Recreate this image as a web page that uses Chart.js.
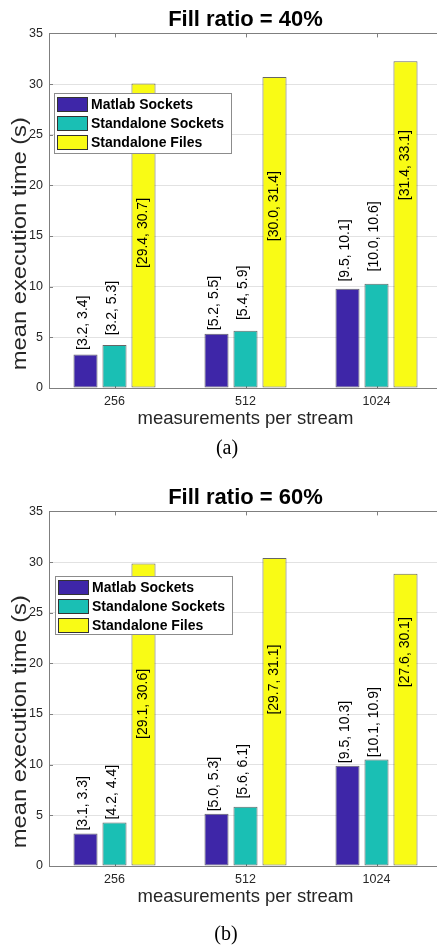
<!DOCTYPE html>
<html>
<head>
<meta charset="utf-8">
<title>Mean execution time per stream size</title>
<script src="https://cdn.jsdelivr.net/npm/chart.js@4.4.1/dist/chart.umd.min.js"></script>
<style>
  html, body { margin: 0; padding: 0; width: 437px; height: 945px; overflow: hidden; background: #fff; }
  .panel { position: absolute; left: 0; width: 442px; height: 467px; }
  .panel canvas { display: block; }
  .cap { position: absolute; width: 60px; text-align: center; font-family: 'Liberation Serif', 'Times New Roman', serif;
         font-size: 20px; line-height: 20px; color: #000; }
</style>
</head>
<body>
<div class="panel" style="top:0px"><canvas id="fill40" width="442" height="467"></canvas></div>
<div class="cap" style="left:197px; top:437px">(a)</div>
<div class="panel" style="top:478px"><canvas id="fill60" width="442" height="467"></canvas></div>
<div class="cap" style="left:196px; top:923px">(b)</div>

<script>
// ---- data ----
const categories = ['256', '512', '1024'];
const seriesNames = ['Matlab Sockets', 'Standalone Sockets', 'Standalone Files'];
const yTicks = [0, 5, 10, 15, 20, 25, 30, 35];

// Fill ratio = 40 %: mean execution time (s)
const matlab40  = [3.3, 5.35, 9.8];
const sockets40 = [4.25, 5.65, 10.3];
const files40   = [30.05, 30.7, 32.25];
// Fill ratio = 40 %: confidence intervals [low, high]
const matlabCI40  = [[3.2, 3.4], [5.2, 5.5], [9.5, 10.1]];
const socketsCI40 = [[3.2, 5.3], [5.4, 5.9], [10.0, 10.6]];
const filesCI40   = [[29.4, 30.7], [30.0, 31.4], [31.4, 33.1]];

// Fill ratio = 60 %: mean execution time (s)
const matlab60  = [3.2, 5.15, 9.9];
const sockets60 = [4.3, 5.85, 10.5];
const files60   = [29.85, 30.4, 28.85];
// Fill ratio = 60 %: confidence intervals [low, high]
const matlabCI60  = [[3.1, 3.3], [5.0, 5.3], [9.5, 10.3]];
const socketsCI60 = [[4.2, 4.4], [5.6, 6.1], [10.1, 10.9]];
const filesCI60   = [[29.1, 30.6], [29.7, 31.1], [27.6, 30.1]];

// where each interval label sits, in axis units:
// for the socket series the height at which the text starts, for the file series its middle
const labelStart40 = [[3.75, 5.7, 10.5], [5.2, 6.7, 11.5]];
const labelMid40   = [15.3, 17.95, 22.0];
const labelStart60 = [[3.5, 5.4, 10.15], [4.6, 6.66, 10.74]];
const labelMid60   = [16.0, 18.4, 21.1];

// ---- styling ----
const COLORS = ['#3E26A8', '#1ABFB4', '#F9FB15'];
const AXIS = '#7f7f7f';
const TEXT = '#262626';
const SANS = "'Liberation Sans', Arial, Helvetica, sans-serif";

const fmt = ci => '[' + ci[0].toFixed(1) + ', ' + ci[1].toFixed(1) + ']';

// frame, inward ticks, interval labels, legend box and the rotated y title
const decorations = {
  id: 'decorations',
  beforeDatasetsDraw(chart) {
    const { ctx, chartArea: a, scales: { x, y } } = chart;
    ctx.save();
    ctx.strokeStyle = AXIS;
    ctx.lineWidth = 1;
    ctx.beginPath();
    ctx.moveTo(a.left, Math.round(a.top) + 0.5);
    ctx.lineTo(a.right, Math.round(a.top) + 0.5);
    ctx.moveTo(a.right - 0.5, a.top);
    ctx.lineTo(a.right - 0.5, a.bottom);
    yTicks.forEach(v => {
      const py = Math.round(y.getPixelForValue(v)) + 0.5;
      ctx.moveTo(a.left, py); ctx.lineTo(a.left + 4, py);
      ctx.moveTo(a.right, py); ctx.lineTo(a.right - 4, py);
    });
    categories.forEach((c, i) => {
      const px = Math.round(x.getPixelForValue(i)) + 0.5;
      ctx.moveTo(px, a.top); ctx.lineTo(px, a.top + 4);
      ctx.moveTo(px, a.bottom); ctx.lineTo(px, a.bottom - 4);
    });
    ctx.stroke();
    ctx.restore();
  },
  afterDatasetsDraw(chart, args, opts) {
    const { ctx, chartArea: a, scales: { y } } = chart;
    ctx.save();
    ctx.fillStyle = '#000';
    ctx.font = '14px ' + SANS;
    ctx.textBaseline = 'middle';
    chart.data.datasets.forEach((ds, di) => {
      const meta = chart.getDatasetMeta(di);
      meta.data.forEach((bar, j) => {
        const text = fmt(opts.intervals[di][j]);
        ctx.save();
        if (di < 2) {
          ctx.translate(bar.x - 2.5, y.getPixelForValue(opts.labelStart[di][j]));
          ctx.rotate(-Math.PI / 2);
          ctx.textAlign = 'left';
        } else {
          ctx.translate(bar.x, y.getPixelForValue(opts.labelMid[j]));
          ctx.rotate(-Math.PI / 2);
          ctx.textAlign = 'center';
        }
        ctx.fillText(text, 0, 0);
        ctx.restore();
      });
    });

    // legend
    const lg = opts.legend;
    const lx = a.left + lg.dx, ly = a.top + lg.dy;
    ctx.fillStyle = '#fff';
    ctx.fillRect(lx, ly, lg.w, lg.h);
    ctx.strokeStyle = '#8c8c8c';
    ctx.lineWidth = 1;
    ctx.strokeRect(Math.round(lx) + 0.5, Math.round(ly) + 0.5, lg.w, lg.h);
    ctx.font = 'bold 14px ' + SANS;
    ctx.textAlign = 'left';
    ctx.textBaseline = 'middle';
    chart.data.datasets.forEach((ds, i) => {
      const sy = Math.round(ly + 4 + i * 19);
      ctx.fillStyle = ds.backgroundColor;
      ctx.fillRect(lx + 3, sy, 31, 15);
      ctx.strokeStyle = '#333';
      ctx.strokeRect(Math.round(lx + 3) + 0.5, sy + 0.5, 30, 14);
      ctx.fillStyle = '#000';
      ctx.fillText(ds.label, lx + 37, sy + 8);
    });
    ctx.restore();
  },
  afterDraw(chart, args, opts) {
    const { ctx, chartArea: a } = chart;
    const t = opts.yTitle;
    ctx.save();
    ctx.font = '20px ' + SANS;
    ctx.fillStyle = TEXT;
    ctx.textAlign = 'center';
    ctx.textBaseline = 'middle';
    const w = ctx.measureText(t.text).width;
    ctx.translate(t.x, (a.top + a.bottom) / 2 + t.shift);
    ctx.rotate(-Math.PI / 2);
    ctx.scale(t.length / w, 1);
    ctx.fillText(t.text, 0, 0);
    ctx.restore();
  }
};

function makeChart(id, titleText, values, intervals, labelStart, labelMid, legendBox) {
  return new Chart(document.getElementById(id), {
    type: 'bar',
    data: {
      labels: categories,
      datasets: values.map((vals, i) => ({
        label: seriesNames[i],
        data: vals,
        backgroundColor: COLORS[i],
        borderColor: 'rgba(0,0,0,0.6)',
        borderWidth: 1,
        borderSkipped: false,
        categoryPercentage: 0.664,
        barPercentage: 0.83
      }))
    },
    options: {
      responsive: false,
      animation: false,
      devicePixelRatio: 1,
      layout: { padding: 0 },
      plugins: {
        legend: { display: false },
        tooltip: { enabled: false },
        title: {
          display: true,
          text: titleText,
          fullSize: false,
          color: '#000',
          font: { family: SANS, size: 22, weight: 'bold', lineHeight: 1.2 },
          padding: { top: 7, bottom: 0 }
        },
        decorations: {
          intervals: intervals,
          labelStart: labelStart,
          labelMid: labelMid,
          legend: legendBox,
          yTitle: { text: 'mean execution time (s)', x: 20, shift: 33, length: 253 }
        }
      },
      scales: {
        x: {
          grid: { display: false, drawTicks: false },
          border: { display: true, color: AXIS, width: 1 },
          ticks: { color: TEXT, font: { family: SANS, size: 12.5 }, padding: 6.5, maxRotation: 0 },
          title: {
            display: true,
            text: 'measurements per stream',
            color: TEXT,
            font: { family: SANS, size: 18.5, lineHeight: 1.2 },
            padding: { top: 0, bottom: 37 }
          },
          afterFit(scale) { scale.height = 79; }
        },
        y: {
          min: 0,
          max: 35,
          afterBuildTicks(scale) { scale.ticks = yTicks.map(v => ({ value: v })); },
          grid: { color: '#e2e2e2', drawTicks: false },
          border: { display: true, color: AXIS, width: 1 },
          ticks: { color: TEXT, font: { family: SANS, size: 12.5 }, padding: 6 },
          afterFit(scale) { scale.width = 49; }
        }
      }
    },
    plugins: [decorations]
  });
}

makeChart('fill40', 'Fill ratio = 40%',
  [matlab40, sockets40, files40],
  [matlabCI40, socketsCI40, filesCI40],
  labelStart40, labelMid40,
  { dx: 5, dy: 60, w: 177, h: 60 });

makeChart('fill60', 'Fill ratio = 60%',
  [matlab60, sockets60, files60],
  [matlabCI60, socketsCI60, filesCI60],
  labelStart60, labelMid60,
  { dx: 6, dy: 65, w: 177, h: 58 });
</script>
</body>
</html>
